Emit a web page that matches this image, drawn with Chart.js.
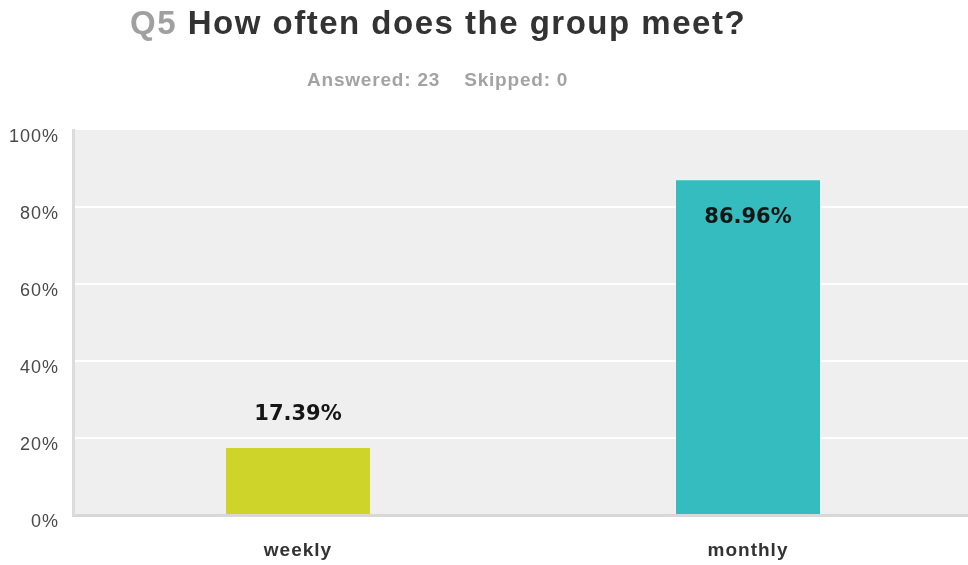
<!DOCTYPE html>
<html lang="en">
<head>
  <meta charset="UTF-8">
  <title>Q5 How often does the group meet?</title>
  <style>
    body{
      margin: 0;
      background: #fff;
    }
    .wrap{
      position: relative;
      width: 968px;
      height: 565px;
      overflow: hidden;
    }
    .title{
      position: absolute;
      left: 130px;
      top: 3px;
      font: bold 33px/40px "Liberation Sans", Arial, sans-serif;
      letter-spacing: 1.5px;
      color: #333;
      white-space: nowrap;
    }
    .title .q{ color: #a0a0a0; }
    .sub{
      position: absolute;
      left: 307px;
      top: 69px;
      font: bold 19px/22px "Liberation Sans", Arial, sans-serif;
      letter-spacing: 0.8px;
      color: #a3a3a3;
      white-space: nowrap;
    }
    .sub span + span{ margin-left: 24px; }
    canvas{
      position: absolute;
      left: 0;
      top: 0;
    }
  </style>
</head>
<body>
  <div class="wrap">
    <!-- plot runs a little past the right edge, like the original -->
    <canvas id="myChart" width="973" height="565"></canvas>
    <div class="title"><span class="q">Q5</span> How often does the group meet?</div>
    <div class="sub"><span>Answered: 23</span><span>Skipped: 0</span></div>
  </div>

  <script src="https://cdn.jsdelivr.net/npm/chart.js"></script>
  <script>
  const categories = ['weekly', 'monthly']
  const percents = [17.39, 86.96]
  const barColors = ['#cfd42a', '#34bcbf']
  const tickValues = [0, 20, 40, 60, 80, 100]

  // grey plot background + spacing for all canvas text
  const plotBg = {
    id: 'plot_bg',
    beforeDraw: (chart) => {
      const {ctx, chartArea} = chart
      ctx.save()
      ctx.fillStyle = '#efefef'
      ctx.fillRect(chartArea.left, chartArea.top, chartArea.right - chartArea.left, chartArea.bottom - chartArea.top)
      ctx.restore()
      ctx.letterSpacing = '1px'
    }
  }

  // value labels: inside tall bars, above short ones
  const valueLabels = {
    id: 'value_labels',
    afterDatasetsDraw: (chart) => {
      const ctx = chart.ctx
      const meta = chart.getDatasetMeta(0)
      ctx.save()
      ctx.letterSpacing = '0px'
      ctx.font = 'bold 21px "DejaVu Sans"'
      ctx.fillStyle = '#151515'
      ctx.textAlign = 'center'
      ctx.textBaseline = 'middle'
      meta.data.forEach((bar, i) => {
        const h = bar.base - bar.y
        const y = h > 100 ? bar.y + 37 : bar.y - 34
        ctx.fillText(percents[i].toFixed(2) + '%', bar.x, y)
      })
      ctx.restore()
    }
  }

  let myChart = new Chart(document.getElementById('myChart'), {
    type: 'bar',
    data: {
      labels: categories,
      datasets: [{
        data: percents,
        backgroundColor: barColors,
        barPercentage: 0.32,
        categoryPercentage: 1
      }]
    },
    options: {
      responsive: false,
      animation: false,
      layout: {
        padding: {top: 130, right: 0, left: 0, bottom: 0}
      },
      plugins: {
        legend: {display: false},
        tooltip: {enabled: false}
      },
      scales: {
        x: {
          grid: {display: false, drawTicks: false},
          border: {display: true, color: '#d8d8d8', width: 3},
          ticks: {
            padding: 24,
            color: '#333',
            font: {family: '"Liberation Sans"', size: 19, weight: 'bold'}
          },
          afterFit: (scale) => { scale.height = 50 }
        },
        y: {
          min: 0,
          max: 100,
          afterBuildTicks: (scale) => {
            scale.ticks = tickValues.map(v => ({value: v}))
          },
          grid: {
            drawTicks: false,
            lineWidth: 2,
            color: (c) => (c.tick && c.tick.value > 0 && c.tick.value < 100) ? '#ffffff' : 'rgba(0,0,0,0)'
          },
          border: {display: true, color: '#dcdcdc', width: 3},
          ticks: {
            padding: 14,
            labelOffset: 7,
            color: '#4a4a4a',
            font: {family: '"Liberation Sans"', size: 18},
            callback: (v) => v + '%'
          },
          afterFit: (scale) => { scale.width = 73 }
        }
      }
    },
    plugins: [plotBg, valueLabels]
  })
  </script>
</body>
</html>
